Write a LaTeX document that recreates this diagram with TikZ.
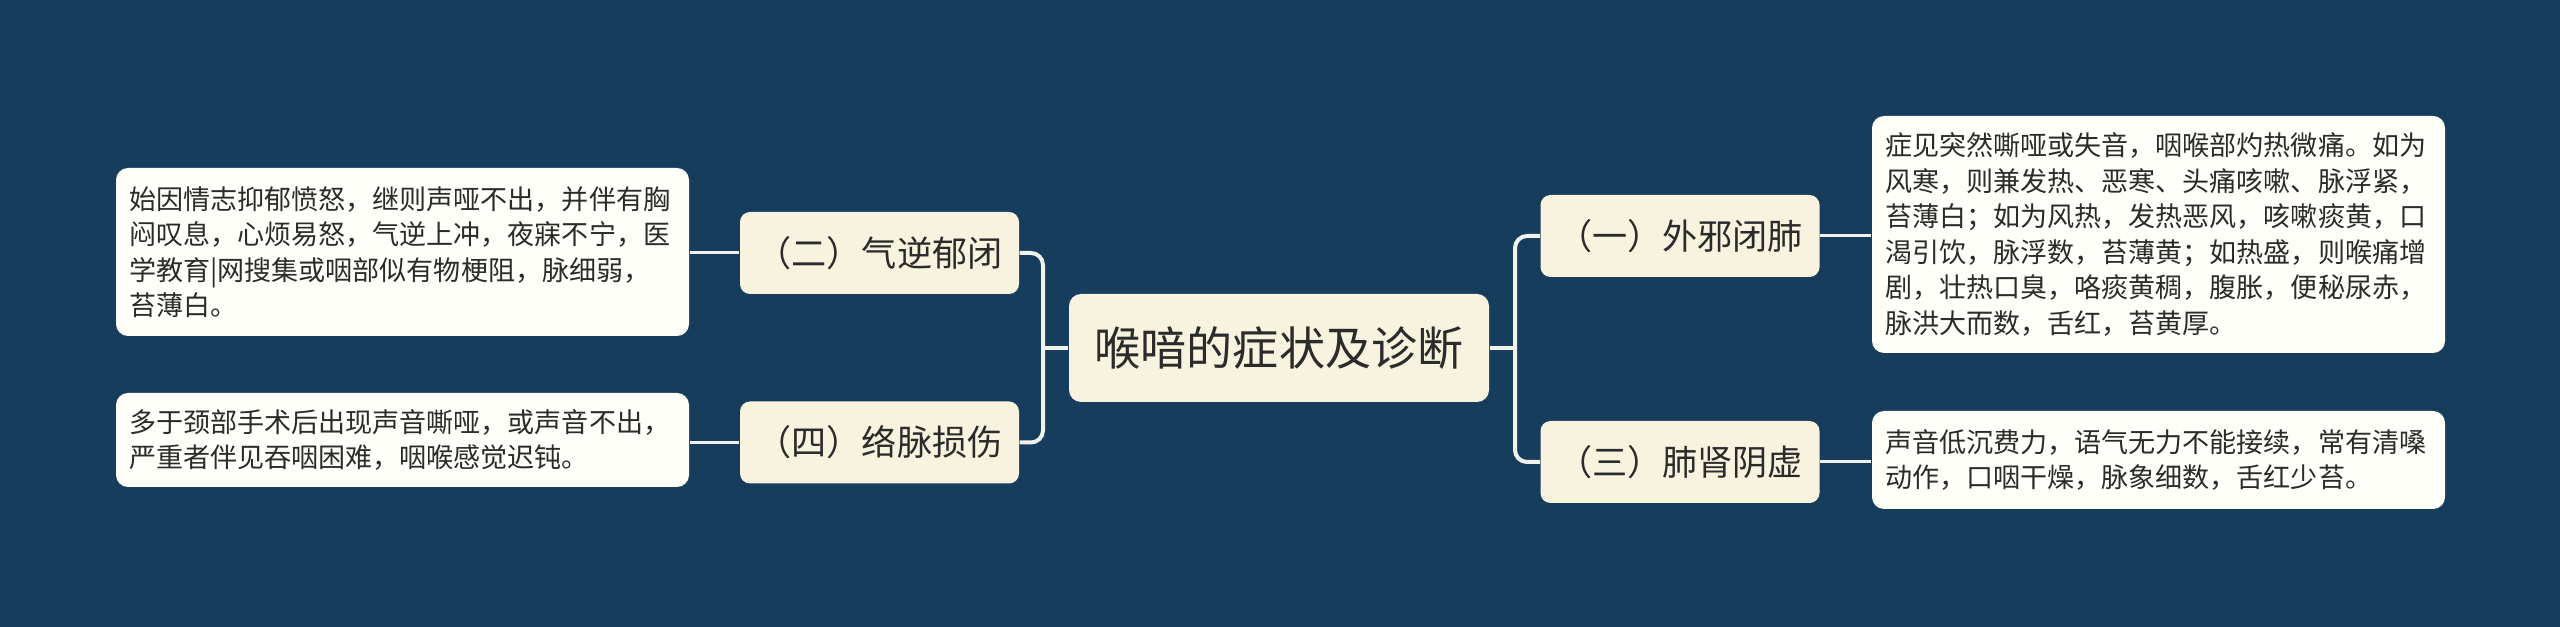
\documentclass[tikz,border=0pt]{standalone}
\usepackage{fontspec}
\setmainfont{Noto Sans CJK SC}
\usepackage{xcolor}
\definecolor{fondo}{RGB}{23,61,93}
\definecolor{crema}{RGB}{248,243,222}
\definecolor{hoja}{RGB}{255,255,250}
\definecolor{tinta}{RGB}{43,43,43}
\definecolor{hilo}{RGB}{242,242,236}
\usepackage{tikz}
\usetikzlibrary{calc}

\begin{document}
\begin{tikzpicture}[
    raiz/.style={fill=crema,rounded corners=1.2mm,minimum width=4.2cm,minimum height=1.08cm,
      text=tinta,font=\fontsize{13.1}{16}\selectfont,inner sep=0pt},
    rama/.style={fill=crema,rounded corners=1mm,minimum width=2.79cm,minimum height=0.82cm,
      text=tinta,font=\fontsize{10}{12}\selectfont,inner sep=0pt},
    hojita/.style={fill=hoja,rounded corners=1.2mm,text width=5.47cm,align=left,inner xsep=0.13cm,
      inner ysep=0pt,text=tinta,font=\fontsize{7.7}{10.1}\selectfont},
    link/.style={draw=hilo,line width=0.4mm,rounded corners=0.12cm},
    link2/.style={draw=hilo,line width=0.3mm}]
    \fill[fondo] (0,0) rectangle (25.6,-6.27);
    \node[raiz] (ctr) at (12.79,-3.48) {喉喑的症状及诊断};
    \node[rama] (b2) at (8.795,-2.53) {（二）气逆郁闭};
    \node[rama] (b4) at (8.795,-4.425) {（四）络脉损伤};
    \node[rama] (b1) at (16.80,-2.36) {（一）外邪闭肺};
    \node[rama] (b3) at (16.80,-4.62) {（三）肺肾阴虚};
    \node[hojita,minimum height=1.68cm] (d2) at (4.025,-2.52)
      {始因情志抑郁愤怒，继则声哑不出，并伴有胸\\闷叹息，心烦易怒，气逆上冲，夜寐不宁，医\\学教育|网搜集或咽部似有物梗阻，脉细弱，\\苔薄白。};
    \node[hojita,minimum height=0.94cm] (d4) at (4.025,-4.40)
      {多于颈部手术后出现声音嘶哑，或声音不出，\\严重者伴见吞咽困难，咽喉感觉迟钝。};
    \node[hojita,minimum height=2.37cm] (d1) at (21.585,-2.345)
      {症见突然嘶哑或失音，咽喉部灼热微痛。如为\\风寒，则兼发热、恶寒、头痛咳嗽、脉浮紧，\\苔薄白；如为风热，发热恶风，咳嗽痰黄，口\\渴引饮，脉浮数，苔薄黄；如热盛，则喉痛增\\剧，壮热口臭，咯痰黄稠，腹胀，便秘尿赤，\\脉洪大而数，舌红，苔黄厚。};
    \node[hojita,minimum height=0.98cm] (d3) at (21.585,-4.60)
      {声音低沉费力，语气无力不能接续，常有清嗓\\动作，口咽干燥，脉象细数，舌红少苔。};
    \coordinate (jl) at (10.43,-3.48);
    \coordinate (jr) at (15.15,-3.48);
    \draw[link] (b2.east) -| (jl) |- (b4.east);
    \draw[link] (ctr.west) -- (jl);
    \draw[link] (b1.west) -| (jr) |- (b3.west);
    \draw[link] (ctr.east) -- (jr);
    \draw[link2] (b2.west) -- (b2.west -| d2.east);
    \draw[link2] (b4.west) -- (b4.west -| d4.east);
    \draw[link2] (b1.east) -- (b1.east -| d1.west);
    \draw[link2] (b3.east) -- (b3.east -| d3.west);
\end{tikzpicture}
\end{document}
